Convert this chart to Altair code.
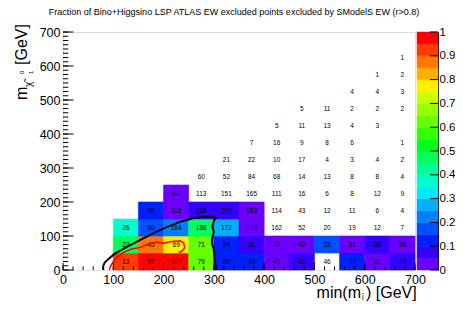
import altair as alt
import pandas as pd

FONT = "Liberation Sans"

# ---------------- data ----------------
bin_width = 50
row_y_lo = [0, 50, 100, 150, 200, 250, 300, 350, 400, 450, 500, 550, 600]
row_x_start = [100, 100, 100, 150, 200, 250, 300, 350, 400, 450, 550, 600, 650]

counts_r0 = [13, 57, 107, 79, 56, 43, 41, 45, 46, 37, 41, 29]
counts_r1 = [22, 45, 69, 71, 54, 36, 44, 42, 33, 31, 30, 38]
counts_r2 = [26, 80, 164, 186, 172, 213, 162, 52, 20, 19, 12, 7]
counts_r3 = [70, 115, 138, 197, 183, 114, 43, 12, 11, 6, 4]
counts_r4 = [82, 113, 151, 165, 111, 16, 6, 8, 12, 9]
counts_r5 = [60, 52, 84, 68, 14, 13, 8, 8, 4]
counts_r6 = [21, 22, 10, 17, 4, 3, 4, 2]
counts_r7 = [7, 16, 9, 8, 6, 0, 1]
counts_r8 = [5, 11, 13, 4, 3]
counts_r9 = [5, 11, 2, 2, 2]
counts_r10 = [4, 4, 3]
counts_r11 = [1, 2]
counts_r12 = [1]

frac_r0 = [0.93, 0.97, 0.97, 0.62, 0.12, 0.12, 0.03, 0.07, 0.0, 0.12, 0.03, 0.07]
frac_r1 = [0.47, 0.87, 0.77, 0.62, 0.12, 0.07, 0.03, 0.03, 0.17, 0.03, 0.07, 0.03]
frac_r2 = [0.37, 0.17, 0.22, 0.47, 0.27, 0.03, 0, 0, 0, 0, 0, 0]
frac_r3 = [0.12, 0.03, 0.07, 0.07, 0.03, 0, 0, 0, 0, 0, 0]
frac_r4 = [0.03, 0, 0, 0, 0, 0, 0, 0, 0, 0]

counts_rows = [counts_r0, counts_r1, counts_r2, counts_r3, counts_r4, counts_r5,
               counts_r6, counts_r7, counts_r8, counts_r9, counts_r10, counts_r11,
               counts_r12]
frac_rows = [frac_r0, frac_r1, frac_r2, frac_r3, frac_r4]

# exclusion contours (GeV)
black_x = [80, 80, 83, 90, 103, 127, 153, 179, 206, 233, 260, 285, 300, 304, 300,
           297, 300, 297, 296, 300, 301, 302, 304, 305]
black_y = [0, 12, 22, 32, 48, 68, 88, 108, 126, 142, 153, 158, 157, 152, 145,
           128, 112, 95, 80, 60, 40, 25, 8, 0]
red_x = [92, 95, 100, 108, 120, 135, 153, 165, 175, 186, 199, 216, 233, 240, 242,
         236, 230]
red_y = [0, 12, 25, 38, 52, 61, 66, 74, 79, 82, 79, 84, 86, 80, 65, 55, 52]

# axis ticks / labels
x_major = [0, 100, 200, 300, 400, 500, 600, 700]
y_major = [0, 100, 200, 300, 400, 500, 600, 700]
x_minor = list(range(0, 701, 20))
y_minor = [v * 12.5 for v in range(0, 57)]

# colour palette levels (z axis)
level_lo = [0.0, 0.05, 0.1, 0.15, 0.2, 0.25, 0.3, 0.35, 0.4, 0.45, 0.5, 0.55, 0.6,
            0.65, 0.7, 0.75, 0.8, 0.85, 0.9, 0.95]
level_hi = [0.05, 0.1, 0.15, 0.2, 0.25, 0.3, 0.35, 0.4, 0.45, 0.5, 0.55, 0.6, 0.65,
            0.7, 0.75, 0.8, 0.85, 0.9, 0.95, 1.0]
z_ticks = [0, 0.1, 0.2, 0.3, 0.4, 0.5, 0.6, 0.7, 0.8, 0.9, 1.0]
palette = ["#6a00ff", "#3300ff", "#0020ff", "#0050ff", "#0080ff", "#00b0ff",
           "#00eaff", "#00ffcc", "#00ff99", "#00ff5a", "#00ff1e", "#33ff00",
           "#66ff00", "#99ff00", "#ccff00", "#ffee00", "#ffb000", "#ff7700",
           "#ff3c00", "#ff0000"]

title_text = ("Fraction of Bino+Higgsino LSP ATLAS EW excluded points excluded "
              "by SModelS EW (r>0.8)")

# ---------------- tables ----------------
recs = []
for r, (ylo, xs0, cnts) in enumerate(zip(row_y_lo, row_x_start, counts_rows)):
    fr = frac_rows[r] if r < len(frac_rows) else [0] * len(cnts)
    for j, c in enumerate(cnts):
        xlo = xs0 + j * bin_width
        recs.append(dict(xlo=xlo, xhi=xlo + bin_width, ylo=ylo, yhi=ylo + bin_width,
                         count=c, frac=fr[j]))
cells = pd.DataFrame(recs)

black_df = pd.DataFrame({"x": black_x, "y": black_y, "i": range(len(black_x))})
red_df = pd.DataFrame({"x": red_x, "y": red_y, "i": range(len(red_x))})
levels = pd.DataFrame({"lo": level_lo, "hi": level_hi})
levels["mid"] = (levels["lo"] + levels["hi"]) / 2

W, H = 352, 238

xs = alt.Scale(domain=[0, 700], nice=False, zero=False)
ys = alt.Scale(domain=[0, 700], nice=False, zero=False)
cs = alt.Scale(type="threshold", domain=level_hi[:-1], range=palette)

xaxis = alt.Axis(values=x_major, format="d", ticks=False, domain=False, grid=False,
                 title=None, labelFont=FONT, labelFontSize=12.5, labelColor="black",
                 labelPadding=3, labelFlush=False, labelOverlap=False)
yaxis = alt.Axis(values=y_major, format="d", ticks=False, domain=False, grid=False,
                 title=None, labelFont=FONT, labelFontSize=12.5, labelColor="black",
                 labelPadding=3, labelOverlap=False, orient="left")

base = alt.Chart(cells)

rects = base.transform_filter("datum.frac > 0").mark_rect(strokeWidth=0.6).encode(
    x=alt.X("xlo:Q", scale=xs, axis=xaxis),
    x2="xhi:Q",
    y=alt.Y("ylo:Q", scale=ys, axis=yaxis),
    y2="yhi:Q",
    color=alt.Color("frac:Q", scale=cs, legend=None),
    stroke=alt.Stroke("frac:Q", scale=cs, legend=None),
)

texts = base.transform_filter("datum.count > 0").transform_calculate(
    xc="(datum.xlo + datum.xhi) / 2", yc="(datum.ylo + datum.yhi) / 2"
).mark_text(font=FONT, fontSize=6.5, color="black").encode(
    x=alt.X("xc:Q", scale=xs, axis=xaxis),
    y=alt.Y("yc:Q", scale=ys, axis=yaxis),
    text="count:Q",
)

black_line = alt.Chart(black_df).mark_line(color="black", strokeWidth=2).encode(
    x=alt.X("x:Q", scale=xs, axis=xaxis), y=alt.Y("y:Q", scale=ys, axis=yaxis),
    order="i:Q")
red_line = alt.Chart(red_df).mark_line(color="#ff0000", strokeWidth=1.5).encode(
    x=alt.X("x:Q", scale=xs, axis=xaxis), y=alt.Y("y:Q", scale=ys, axis=yaxis),
    order="i:Q")

def xticks(vals, length):
    return alt.Chart(pd.DataFrame({"v": vals})).mark_rule(
        color="black", strokeWidth=1).encode(
        x=alt.X("v:Q", scale=xs, axis=xaxis), y=alt.value(H), y2=alt.value(H - length))

def yticks(vals, length):
    return alt.Chart(pd.DataFrame({"v": vals})).mark_rule(
        color="black", strokeWidth=1).encode(
        y=alt.Y("v:Q", scale=ys, axis=yaxis), x=alt.value(0), x2=alt.value(length))

def label(txt, x, y, size, angle=0, align="left", baseline="alphabetic"):
    kw = dict(font=FONT, fontSize=size, align=align, baseline=baseline, color="black")
    if angle:
        kw["angle"] = angle
    return alt.Chart(pd.DataFrame({"t": [txt]})).mark_text(**kw).encode(
        text="t:N", x=alt.value(x), y=alt.value(y))

titles = [
    label(title_text, 171, -17.5, 9, align="center"),
    label("min(m", 298, 266, 16, align="right"),
    label("l\u0303", 299, 267.5, 7.5),
    label(") [GeV]", 303, 266, 16),
    label("m", -36, 68, 16, angle=270),
    label("\u03c7\u0303", -31, 55, 10, angle=270),
    label("0", -39, 42, 6, angle=270),
    label("1", -30, 42, 6, angle=270),
    label("[GeV]", -36, 33, 16, angle=270),
]

main = alt.layer(
    rects, texts, black_line, red_line,
    xticks(x_minor, 3.6), xticks(x_major, 7),
    yticks(y_minor, 5.3), yticks(y_major, 10.5),
    *titles,
)

zs = alt.Scale(domain=[0, 1], nice=False, zero=False)
zaxis = alt.Axis(orient="right", offset=23, values=z_ticks, format="~g", ticks=False,
                 domain=True, domainColor="black", domainWidth=1, grid=False,
                 title=None, labelFont=FONT, labelFontSize=11.5, labelColor="black",
                 labelPadding=1, labelOverlap=False, labelFlush=False)

cbar = alt.Chart(levels).mark_rect(strokeWidth=0.5).encode(
    x=alt.value(354), x2=alt.value(375),
    y=alt.Y("lo:Q", scale=zs, axis=zaxis), y2="hi:Q",
    color=alt.Color("mid:Q", scale=cs, legend=None),
    stroke=alt.Stroke("mid:Q", scale=cs, legend=None),
)
cbar_ticks = alt.Chart(pd.DataFrame({"v": z_ticks})).mark_rule(
    color="black", strokeWidth=1).encode(
    y=alt.Y("v:Q", scale=zs, axis=zaxis), x=alt.value(367), x2=alt.value(375))

colorbar = alt.layer(cbar, cbar_ticks)

chart = alt.layer(main, colorbar).resolve_scale(y="independent").properties(
    width=W, height=H,
    padding={"left": 55, "top": 24, "right": 40, "bottom": 32},
    autosize=alt.AutoSizeParams(type="none"),
).configure_view(stroke="black", strokeWidth=1).configure(background="white")

chart.save("out.html", embed_options={"renderer": "svg", "actions": False})
